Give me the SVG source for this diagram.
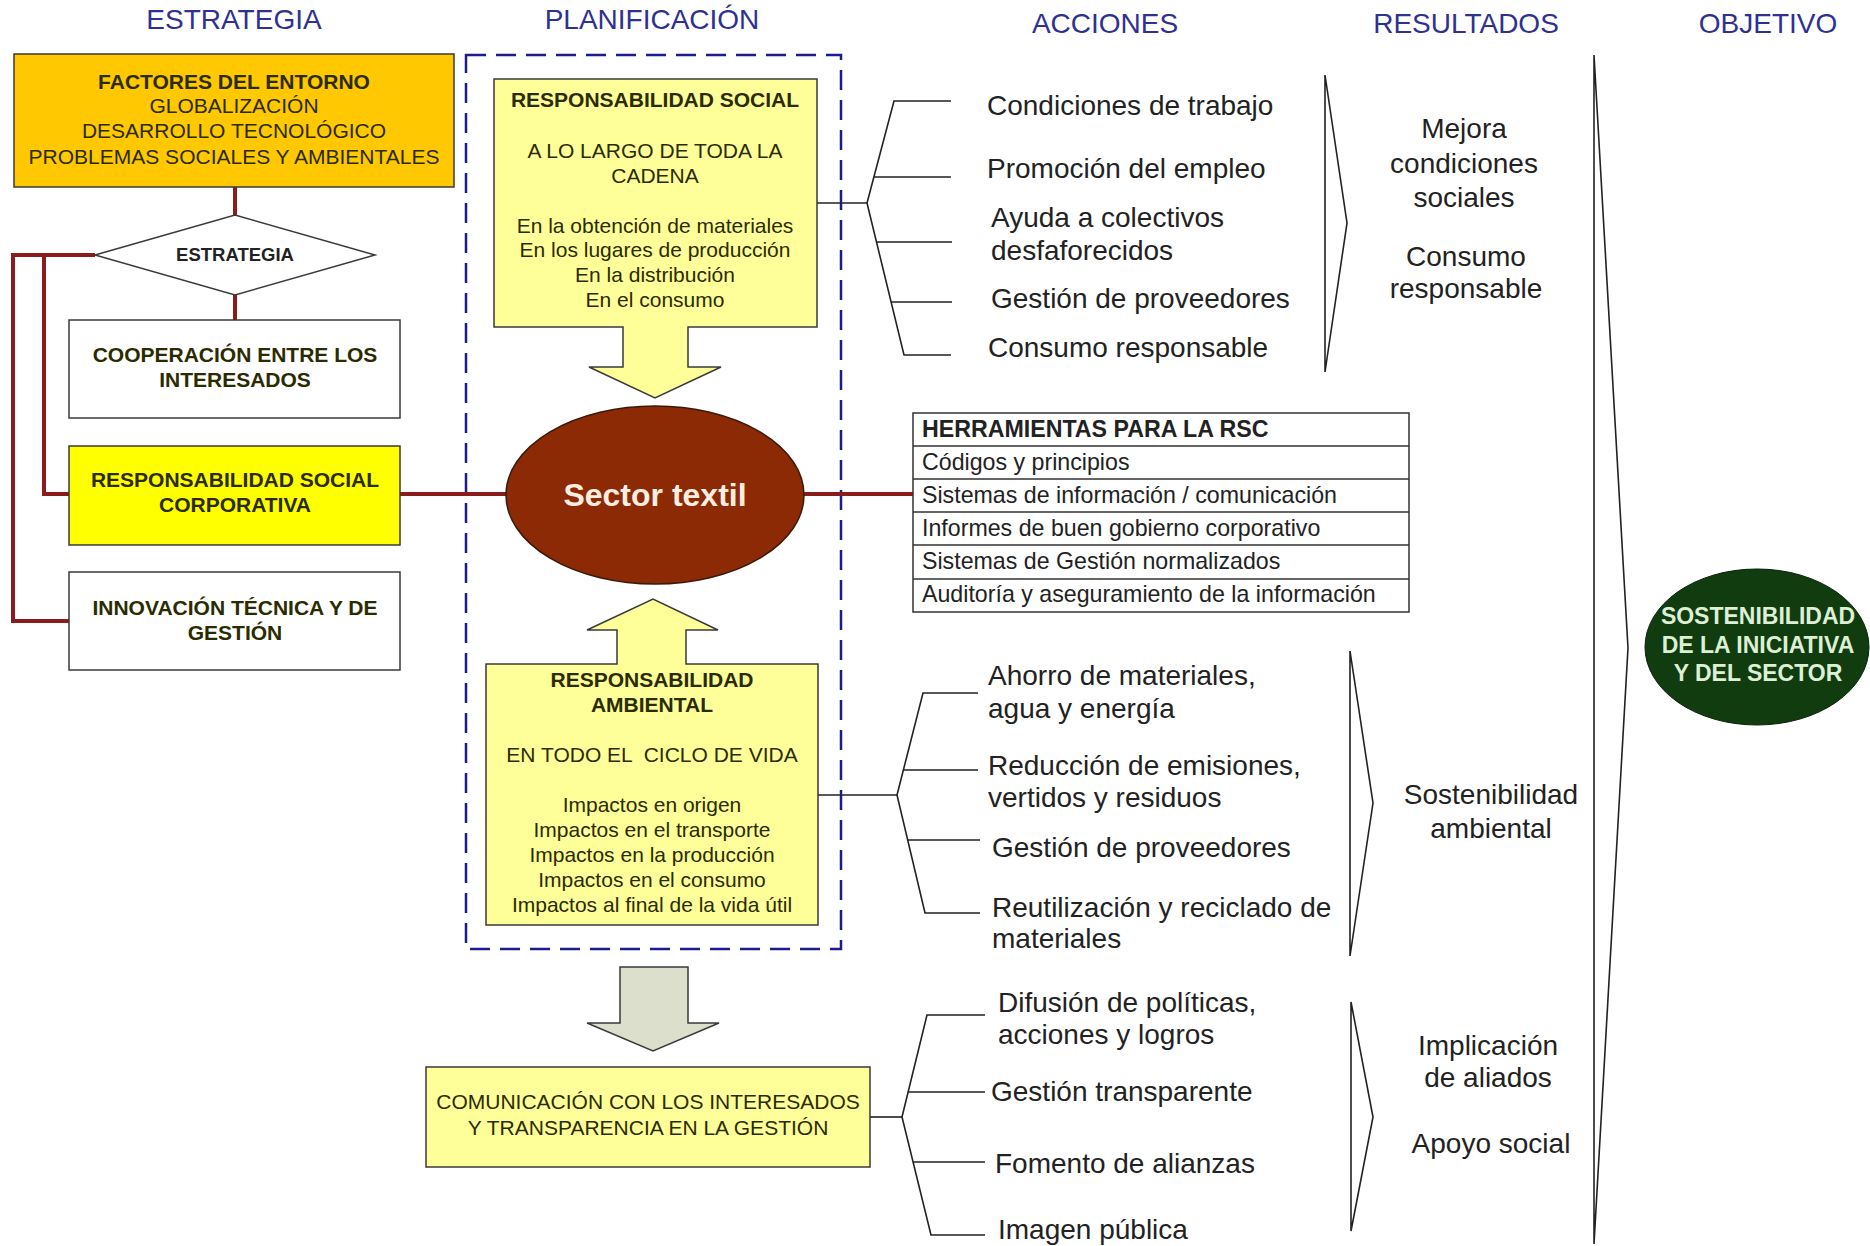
<svg xmlns="http://www.w3.org/2000/svg" width="1870" height="1246" viewBox="0 0 1870 1246">
<defs>
<style>
text{font-family:"Liberation Sans",Arial,Helvetica,sans-serif}
.hdr{font-size:28px;fill:#2E3192;text-anchor:middle}
.c{text-anchor:middle}
.b{font-weight:bold}
.box{font-size:21px;fill:#2b2b00}
.act{font-size:28px;fill:#222}
.res{font-size:28px;fill:#222;text-anchor:middle}
.tab{font-size:23.2px;fill:#222}
.red{stroke:#8A1C1C;stroke-width:4;fill:none}
.thin{stroke:#222;stroke-width:1.6;fill:none}
.edge{stroke:#3a3a3a;stroke-width:1.5}
</style>
</defs>
<rect x="0" y="0" width="1870" height="1246" fill="#ffffff"/>

<g id="headers">
<text class="hdr" x="234" y="29">ESTRATEGIA</text>
<text class="hdr" x="652" y="29">PLANIFICACIÓN</text>
<text class="hdr" x="1105" y="33">ACCIONES</text>
<text class="hdr" x="1466" y="33">RESULTADOS</text>
<text class="hdr" x="1768" y="33">OBJETIVO</text>
</g>

<g id="planificacion-frame">
<rect x="466" y="55" width="375" height="894" fill="none" stroke="#1C1C8C" stroke-width="2.5" stroke-dasharray="20 10"/>
</g>

<g id="connectors">
<path class="red" d="M235,187 V215"/>
<path class="red" d="M235,295 V320"/>
<path class="red" d="M95,255 H13 V621 H69"/>
<path class="red" d="M44,255 V494 H69"/>
<path class="red" stroke-width="3.5" d="M400,494 H913"/>
<path class="thin" d="M817,203 H867"/>
<polyline class="thin" points="951,101 894,101 867,203 904,355 951,355"/>
<path class="thin" d="M874,177 H951 M877,242 H952 M891,302 H952"/>
<path class="thin" d="M818,795 H897"/>
<polyline class="thin" points="978,693 923,693 897,795 925,913 980,913"/>
<path class="thin" d="M903,770 H978 M908,840 H980"/>
<path class="thin" d="M870,1117 H902"/>
<polyline class="thin" points="985,1015 927,1015 902,1117 931,1235 985,1235"/>
<path class="thin" d="M908,1092 H985 M913,1162 H985"/>
<polygon class="thin" points="1325,75 1347,223 1325,372"/>
<polygon class="thin" points="1350,651 1373,803 1350,956"/>
<polygon class="thin" points="1351,1002 1373,1117 1351,1231"/>
<polygon class="thin" points="1594,55 1628,648 1594,1244"/>
</g>

<g id="factores">
<rect class="edge" x="14" y="54" width="440" height="133" fill="#FFC800" stroke="#4d4000"/>
<text class="box c b" x="234" y="89" fill="#1a1a00">FACTORES DEL ENTORNO</text>
<text class="box c" x="234" y="113">GLOBALIZACIÓN</text>
<text class="box c" x="234" y="138">DESARROLLO TECNOLÓGICO</text>
<text class="box c" x="234" y="164">PROBLEMAS SOCIALES Y AMBIENTALES</text>
</g>

<g id="estrategia">
<polygon class="edge" points="95,255 235,215 375,255 235,295" fill="#ffffff"/>
<text class="c b" x="235" y="261" font-size="18.5" fill="#222">ESTRATEGIA</text>
</g>

<g id="cooperacion">
<rect class="edge" x="69" y="320" width="331" height="98" fill="#ffffff"/>
<text class="box c b" x="235" y="362" fill="#222">COOPERACIÓN ENTRE LOS</text>
<text class="box c b" x="235" y="387" fill="#222">INTERESADOS</text>
</g>

<g id="rsc">
<rect class="edge" x="69" y="446" width="331" height="99" fill="#FFFF00"/>
<text class="box c b" x="235" y="487" fill="#222">RESPONSABILIDAD SOCIAL</text>
<text class="box c b" x="235" y="512" fill="#222">CORPORATIVA</text>
</g>

<g id="innovacion">
<rect class="edge" x="69" y="572" width="331" height="98" fill="#ffffff"/>
<text class="box c b" x="235" y="615" fill="#222">INNOVACIÓN TÉCNICA Y DE</text>
<text class="box c b" x="235" y="640" fill="#222">GESTIÓN</text>
</g>

<g id="resp-social">
<polygon class="edge" fill="#FFFF99" points="494,79 817,79 817,327 688,327 688,367 721,367 655,398 589,367 623,367 623,327 494,327"/>
<text class="box c b" x="655" y="107" fill="#1a1a00">RESPONSABILIDAD SOCIAL</text>
<text class="box c" x="655" y="158">A LO LARGO DE TODA LA</text>
<text class="box c" x="655" y="183">CADENA</text>
<text class="box c" x="655" y="233">En la obtención de materiales</text>
<text class="box c" x="655" y="257">En los lugares de producción</text>
<text class="box c" x="655" y="282">En la distribución</text>
<text class="box c" x="655" y="307">En el consumo</text>
</g>

<g id="sector-textil">
<ellipse cx="655" cy="495" rx="149" ry="89" fill="#8B2A05" stroke="#3a1a0a" stroke-width="1.5"/>
<text class="c b" x="655" y="506" font-size="32" fill="#FFEDE0">Sector textil</text>
</g>

<g id="resp-ambiental">
<polygon class="edge" fill="#FFFF99" points="486,664 617,664 617,630 587,630 653,599 718,630 686,630 686,664 818,664 818,925 486,925"/>
<text class="box c b" x="652" y="687" fill="#1a1a00">RESPONSABILIDAD</text>
<text class="box c b" x="652" y="712" fill="#1a1a00">AMBIENTAL</text>
<text class="box c" x="652" y="762" xml:space="preserve">EN TODO EL  CICLO DE VIDA</text>
<text class="box c" x="652" y="812">Impactos en origen</text>
<text class="box c" x="652" y="837">Impactos en el transporte</text>
<text class="box c" x="652" y="862">Impactos en la producción</text>
<text class="box c" x="652" y="887">Impactos en el consumo</text>
<text class="box c" x="652" y="912">Impactos al final de la vida útil</text>
</g>

<g id="flecha-comunicacion">
<polygon class="edge" fill="#DCDFCB" points="620,967 688,967 688,1023 719,1023 653,1051 587,1023 620,1023"/>
</g>

<g id="comunicacion">
<rect class="edge" x="426" y="1067" width="444" height="100" fill="#FFFF99"/>
<text class="box c" x="648" y="1109">COMUNICACIÓN CON LOS INTERESADOS</text>
<text class="box c" x="648" y="1135">Y TRANSPARENCIA EN LA GESTIÓN</text>
</g>

<g id="herramientas">
<rect x="913" y="413" width="496" height="199" fill="#ffffff" stroke="#333" stroke-width="1.5"/>
<path d="M913,446 H1409 M913,479 H1409 M913,512 H1409 M913,545 H1409 M913,579 H1409" stroke="#333" stroke-width="1.5"/>
<text class="tab b" x="922" y="437" fill="#111">HERRAMIENTAS PARA LA RSC</text>
<text class="tab" x="922" y="470">Códigos y principios</text>
<text class="tab" x="922" y="503">Sistemas de información / comunicación</text>
<text class="tab" x="922" y="536">Informes de buen gobierno corporativo</text>
<text class="tab" x="922" y="569">Sistemas de Gestión normalizados</text>
<text class="tab" x="922" y="602">Auditoría y aseguramiento de la información</text>
</g>

<g id="acciones-sociales">
<text class="act" x="987" y="115">Condiciones de trabajo</text>
<text class="act" x="987" y="178">Promoción del empleo</text>
<text class="act" x="991" y="227">Ayuda a colectivos</text>
<text class="act" x="991" y="260">desfaforecidos</text>
<text class="act" x="991" y="308">Gestión de proveedores</text>
<text class="act" x="988" y="357">Consumo responsable</text>
</g>

<g id="acciones-ambientales">
<text class="act" x="988" y="685">Ahorro de materiales,</text>
<text class="act" x="988" y="718">agua y energía</text>
<text class="act" x="988" y="775">Reducción de emisiones,</text>
<text class="act" x="988" y="807">vertidos y residuos</text>
<text class="act" x="992" y="857">Gestión de proveedores</text>
<text class="act" x="992" y="917">Reutilización y reciclado de</text>
<text class="act" x="992" y="948">materiales</text>
</g>

<g id="acciones-comunicacion">
<text class="act" x="998" y="1012">Difusión de políticas,</text>
<text class="act" x="998" y="1044">acciones y logros</text>
<text class="act" x="991" y="1101">Gestión transparente</text>
<text class="act" x="995" y="1173">Fomento de alianzas</text>
<text class="act" x="998" y="1239">Imagen pública</text>
</g>

<g id="resultados-sociales">
<text class="res" x="1464" y="138">Mejora</text>
<text class="res" x="1464" y="173">condiciones</text>
<text class="res" x="1464" y="207">sociales</text>
<text class="res" x="1466" y="266">Consumo</text>
<text class="res" x="1466" y="298">responsable</text>
</g>

<g id="resultados-ambientales">
<text class="res" x="1491" y="804">Sostenibilidad</text>
<text class="res" x="1491" y="838">ambiental</text>
</g>

<g id="resultados-comunicacion">
<text class="res" x="1488" y="1055">Implicación</text>
<text class="res" x="1488" y="1087">de aliados</text>
<text class="res" x="1491" y="1153">Apoyo social</text>
</g>

<g id="objetivo">
<ellipse cx="1757" cy="647" rx="112" ry="78" fill="#103C10" stroke="#0a200a" stroke-width="1"/>
<text class="c b" x="1758" y="624" font-size="23" fill="#DDF0D5">SOSTENIBILIDAD</text>
<text class="c b" x="1758" y="653" font-size="23" fill="#DDF0D5">DE LA INICIATIVA</text>
<text class="c b" x="1758" y="681" font-size="23" fill="#DDF0D5">Y DEL SECTOR</text>
</g>
</svg>
